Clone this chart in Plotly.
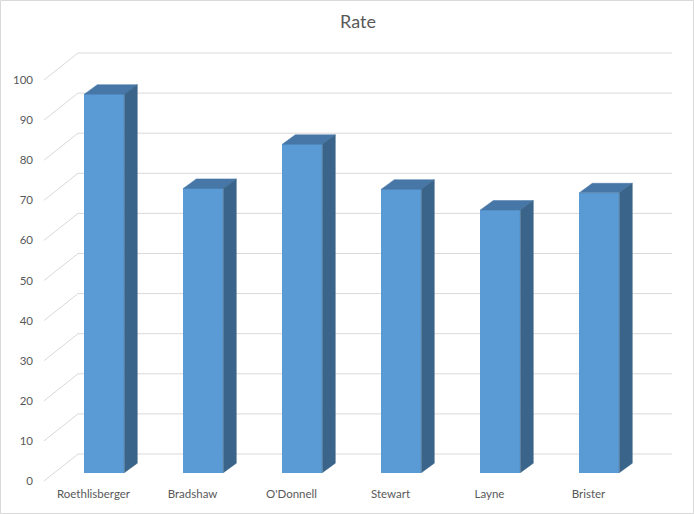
import plotly.graph_objects as go

# ---- data ----
categories = ["Roethlisberger", "Bradshaw", "O'Donnell", "Stewart", "Layne", "Brister"]
rate = [94.4, 70.9, 81.9, 70.7, 65.5, 69.8]
y_ticks = list(range(0, 101, 10))
title_text = "Rate"

# ---- geometry (pixel scale of the axes) ----
W, H = 694, 514
ML, MR, MT, MB = 40, 18, 49, 29
PXX = 99.0     # px per category unit
PXY = 4.01     # px per value unit
X0PX, Y0PX = 44, 481   # pixel where X=0, Y=0 (front floor corner)

def dx(px):
    return px / PXX

def dy(px):
    return px / PXY

WALL_DX, WALL_DY = dx(34), dy(27)       # floor depth (front edge -> back wall)
FACE_DX, FACE_DY = dx(10.8), dy(8.3)    # bar front face offset from floor front
BAR_DX, BAR_DY = dx(13), dy(9.5)        # bar depth
BAR_W = dx(40)

grid_col = "#d9d9d9"
front_col = "#5b9bd5"
top_col = "#4677a7"
side_col = "#3a6489"
text_col = "#595959"
FONT = "Lato"

fig = go.Figure()
n = len(categories)

# gridlines (below all traces): diagonal on floor side + back wall
shapes = []
for v in y_ticks:
    shapes.append(dict(type="path", xref="x", yref="y", layer="below",
                       path=f"M {0} {v} L {WALL_DX} {v + WALL_DY} L {n + WALL_DX} {v + WALL_DY}",
                       line=dict(color=grid_col, width=1)))

# bars
centers = [i + 0.5 + FACE_DX for i in range(n)]
fig.add_trace(go.Bar(x=centers, y=rate, base=[FACE_DY] * n, width=BAR_W,
                     marker=dict(color=front_col, line=dict(width=0)),
                     showlegend=False, hoverinfo="skip"))

for c, v in zip(centers, rate):
    xl, xr = c - BAR_W / 2, c + BAR_W / 2
    b, t = FACE_DY, FACE_DY + v
    fig.add_trace(go.Scatter(x=[xl, xr, xr + BAR_DX, xl + BAR_DX, xl],
                             y=[t, t, t + BAR_DY, t + BAR_DY, t],
                             fill="toself", fillcolor=top_col, mode="lines",
                             line=dict(color=top_col, width=0.5),
                             hoverinfo="skip", showlegend=False))
    fig.add_trace(go.Scatter(x=[xr, xr, xr + BAR_DX, xr + BAR_DX, xr],
                             y=[b, t, t + BAR_DY, b + BAR_DY, b],
                             fill="toself", fillcolor=side_col, mode="lines",
                             line=dict(color=side_col, width=0.5),
                             hoverinfo="skip", showlegend=False))

pw, ph = W - ML - MR, H - MT - MB
xr0 = (ML - X0PX) / PXX
xr1 = (W - MR - X0PX) / PXX
yr0 = (Y0PX - (H - MB)) / PXY
yr1 = (Y0PX - MT) / PXY

shapes.append(dict(type="rect", xref="paper", yref="paper",
                   x0=(0.5 - ML) / pw, x1=(W - 0.5 - ML) / pw,
                   y0=((H - MB) - (H - 0.5)) / ph, y1=((H - MB) - 0.5) / ph,
                   line=dict(color=grid_col, width=1), layer="below"))

fig.update_layout(
    width=W, height=H, autosize=False,
    margin=dict(l=ML, r=MR, t=MT, b=MB, pad=0),
    paper_bgcolor="white", plot_bgcolor="white",
    title=dict(text=title_text, x=0.5, xref="paper", xanchor="center",
               y=1 - 22 / H, yanchor="middle",
               font=dict(family=FONT, size=18, color=text_col)),
    xaxis=dict(range=[xr0, xr1], tickvals=[i + 0.5 for i in range(n)], ticktext=categories,
               showgrid=False, zeroline=False, showline=False, ticks="",
               tickfont=dict(family=FONT, size=11.5, color=text_col)),
    yaxis=dict(range=[yr0, yr1], tickvals=y_ticks, ticktext=[str(v) for v in y_ticks],
               showgrid=False, zeroline=False, showline=False, ticks="",
               ticklabelstandoff=6,
               tickfont=dict(family=FONT, size=11.5, color=text_col)),
    bargap=0,
    shapes=shapes,
)

fig.write_html("out.html")
